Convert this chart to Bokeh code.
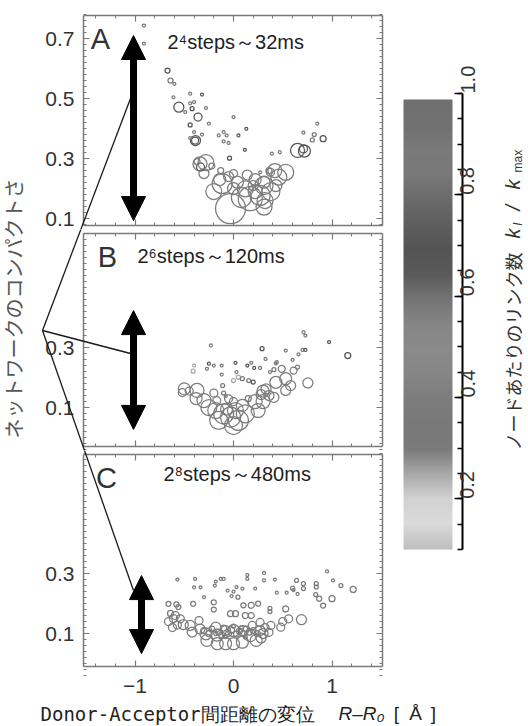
import math
import numpy as np
from bokeh.plotting import figure
from bokeh.models import (Arrow, NormalHead, Label, LinearAxis, FixedTicker, PrintfTickFormatter,
                          LinearColorMapper, Range1d, ColumnDataSource)
from bokeh.layouts import row, column
from bokeh.embed import file_html
from bokeh.resources import INLINE
from bokeh.transform import linear_cmap

# ---------------- data ----------------
x_ticks = [-1, 0, 1]
x_minor = [-1.4, -1.2, -1.0, -0.8, -0.6, -0.4, -0.2, 0.0, 0.2, 0.4, 0.6, 0.8, 1.0, 1.2, 1.4]
a_y_ticks = [0.1, 0.3, 0.5, 0.7]
b_y_ticks = [0.1, 0.3]
c_y_ticks = [0.1, 0.3]
cbar_ticks = [0.2, 0.4, 0.6, 0.8, 1.0]
cbar_minor = [0.1, 0.15, 0.2, 0.25, 0.3, 0.35, 0.4, 0.45, 0.5, 0.55, 0.6, 0.65, 0.7, 0.75, 0.8, 0.85, 0.9, 0.95, 1.0]

panel_titles = ["2\u2074steps\uff5e32ms", "2\u2076steps\uff5e120ms", "2\u2078steps\uff5e480ms"]
panel_letters = ["A", "B", "C"]

# panel A: x = R-R0, y = compactness, w = node weight (bubble), k = k_l/k_max
a_x = [-0.91, -0.91, -0.67, -0.64, -0.60, -0.61, -0.555, -0.44, -0.40, -0.32, -0.44, -0.42, -0.49, -0.36,
       -0.28, -0.44, -0.25, -0.40, -0.386, -0.39, -0.44, -0.32, 0.00, -0.15, -0.10, -0.07, 0.05, 0.13,
       -0.10, -0.05, 0.115, -0.04, -0.34, -0.28, -0.335, -0.37, -0.22, -0.13, -0.115, -0.14, -0.03, 0.04,
       0.12, 0.17, 0.27, 0.31, 0.27, 0.36, 0.85, 0.71, 0.82, 0.80, 0.91, 0.39, 0.47, 0.65, 0.71, 0.72,
       0.53, 0.46, 0.375, 0.31, 0.43, 0.32, 0.31, 0.00, -0.05, 0.20, 0.22,
       0.08, 0.22, 0.38, 0.14, -0.20, 0.42, -0.30, 0.00]
a_y = [0.743, 0.683, 0.593, 0.560, 0.549, 0.504, 0.471, 0.516, 0.488, 0.513, 0.484, 0.466, 0.455, 0.438,
       0.468, 0.412, 0.416, 0.388, 0.360, 0.360, 0.368, 0.380, 0.438, 0.377, 0.388, 0.377, 0.377, 0.399,
       0.357, 0.352, 0.329, 0.301, 0.282, 0.286, 0.272, 0.290, 0.275, 0.260, 0.216, 0.230, 0.133, 0.221,
       0.199, 0.166, 0.177, 0.221, 0.254, 0.260, 0.416, 0.386, 0.380, 0.362, 0.366, 0.316, 0.321, 0.327,
       0.332, 0.325, 0.254, 0.238, 0.254, 0.210, 0.210, 0.160, 0.138, 0.200, 0.240, 0.210, 0.190,
       0.170, 0.230, 0.190, 0.245, 0.190, 0.260, 0.250, 0.250]
a_w = [1.5, 1.5, 2.5, 2.5, 1.5, 1.5, 5, 1.5, 1.5, 1.5, 1.5, 2, 1.5, 4, 1.5, 2, 1.5, 1.5, 5, 3.5, 1.5, 1.5,
       1.5, 1.5, 1.5, 1.5, 1.5, 1.5, 1.5, 1.5, 1.5, 2, 7, 8, 4, 3, 3, 3, 10, 6, 15, 6, 8, 12, 10, 6, 1.5, 3,
       1.5, 1.5, 2, 2, 3, 1.5, 1.5, 7, 4, 6, 8, 8, 4, 9, 6, 8, 8, 6, 5, 5, 7,
       10, 6, 9, 5, 8, 7, 5, 4]
a_k = [0.9, 0.9, 0.7, 0.9, 0.9, 0.9, 0.7, 0.9, 0.9, 0.7, 0.9, 0.7, 0.9, 0.7, 0.9, 0.7, 0.9, 0.9, 0.7, 0.7,
       0.9, 0.9, 0.9, 0.9, 0.9, 0.9, 0.7, 0.7, 0.9, 0.9, 0.7, 0.7, 0.4, 0.4, 0.7, 0.4, 0.4, 0.4, 0.4, 0.4,
       0.4, 0.4, 0.4, 0.4, 0.4, 0.4, 0.9, 0.4, 0.9, 0.9, 0.9, 0.9, 0.7, 0.9, 0.9, 0.7, 0.7, 0.7, 0.4, 0.4,
       0.4, 0.4, 0.4, 0.4, 0.4, 0.4, 0.4, 0.4, 0.4,
       0.4, 0.4, 0.4, 0.4, 0.4, 0.4, 0.4, 0.4]

b_x = [-0.23, -0.25, -0.40, -0.41, -0.27, -0.20, -0.12, -0.12, 0.02, 0.03, 0.14, 0.18, 0.21, 0.27, 0.00,
       0.05, 0.09, 0.155, 0.20, -0.11, -0.10, -0.08, -0.50, -0.52, -0.45, -0.37, -0.38, -0.30, -0.25, -0.17,
       -0.18, -0.10, -0.15, -0.03, 0.02, 0.09, 0.12, 0.05, 0.22, 0.25, 0.28, 0.33, -0.20, -0.05, 0.00, 0.15,
       -0.07, 0.00, 0.29, 0.325, 0.53, 0.70, 0.73, 0.66, 0.60, 0.71, 0.73, 0.97, 1.16, 0.44, 0.43, 0.41,
       0.37, 0.49, 0.61, 0.65, 0.53, 0.43, 0.58, 0.755, 0.53, 0.30, 0.41, 0.30, 0.36]
b_y = [0.307, 0.246, 0.240, 0.221, 0.229, 0.240, 0.240, 0.210, 0.249, 0.218, 0.240, 0.249, 0.232, 0.232,
       0.190, 0.201, 0.196, 0.190, 0.185, 0.173, 0.148, 0.138, 0.162, 0.150, 0.155, 0.157, 0.130, 0.123,
       0.100, 0.123, 0.090, 0.079, 0.057, 0.068, 0.090, 0.107, 0.079, 0.057, 0.120, 0.090, 0.143, 0.162,
       0.148, 0.129, 0.120, 0.130, 0.095, 0.040, 0.296, 0.262, 0.290, 0.292, 0.292, 0.277, 0.259, 0.351,
       0.340, 0.318, 0.273, 0.251, 0.247, 0.226, 0.218, 0.229, 0.223, 0.235, 0.196, 0.184, 0.173, 0.182,
       0.157, 0.155, 0.134, 0.120, 0.140]
b_w = [1.5, 1.5, 1.5, 2, 1.5, 1.5, 1.5, 1.5, 1.5, 1.5, 1.5, 1.5, 1.5, 1.5, 2, 2, 2, 2, 2, 2, 2, 1.5, 6, 4,
       4, 7, 6, 7, 8, 4, 8, 10, 9, 10, 8, 6, 9, 10, 7, 7, 5, 5, 4, 4, 4, 3, 6, 9, 2, 1.5, 1.5, 1.5, 1.5,
       1.5, 1.5, 1.5, 1.5, 1.5, 3, 1.5, 1.5, 2, 1.5, 3.5, 3.5, 2, 6, 6, 5, 5, 5, 6, 5, 7, 5]
b_k = [0.9, 0.7, 0.25, 0.25, 0.9, 0.9, 0.9, 0.9, 0.7, 0.9, 0.7, 0.9, 0.7, 0.9, 0.25, 0.25, 0.9, 0.9, 0.7,
       0.9, 0.9, 0.9, 0.4, 0.4, 0.4, 0.4, 0.4, 0.4, 0.4, 0.4, 0.4, 0.4, 0.4, 0.4, 0.4, 0.4, 0.4, 0.4, 0.4,
       0.4, 0.4, 0.4, 0.4, 0.4, 0.4, 0.4, 0.4, 0.4, 0.7, 0.9, 0.9, 0.9, 0.7, 0.9, 0.9, 0.9, 0.9, 0.7, 0.7,
       0.9, 0.9, 0.9, 0.9, 0.4, 0.4, 0.9, 0.4, 0.4, 0.4, 0.4, 0.4, 0.4, 0.4, 0.4, 0.4]

c_x = [-0.57, -0.39, -0.40, -0.335, -0.30, -0.18, -0.13, -0.10, -0.19, -0.06, 0.00, -0.02, 0.045, 0.03,
       0.09, 0.14, 0.14, 0.22, -0.66, -0.58, -0.56, -0.41, -0.20, -0.20, -0.03, 0.02, 0.10, 0.12, 0.18,
       0.18, 0.25, 0.95, 1.01, 1.09, 1.215, 0.31, 0.31, 0.42, 0.64, 0.71, 0.71, 0.60, 0.61, 0.54, 0.44,
       0.65, 0.84, 0.84, 0.835, 0.87, 1.00, 0.91, 0.37, 0.37, 0.53, 0.69, 0.56, 0.50, 0.48, 0.38, 0.36,
       0.32, 0.27, -0.59, -0.61, -0.54, -0.51, -0.57, -0.44, -0.42, -0.35, -0.34, -0.28, -0.27, -0.18,
       -0.17, -0.165, -0.08, -0.08, 0.00, 0.00, 0.09, 0.10, 0.17, 0.19, 0.23, 0.27, -0.30, -0.25, -0.22,
       -0.15, -0.12, -0.10, -0.05, -0.02, 0.03, 0.06, 0.10, 0.13, 0.16, 0.20, 0.24, -0.18, 0.00, 0.08,
       -0.08, 0.12, 0.30, 0.28, -0.64, -0.66, -0.62]
c_y = [0.280, 0.282, 0.254, 0.254, 0.221, 0.273, 0.282, 0.282, 0.260, 0.243, 0.240, 0.225, 0.221, 0.255,
       0.250, 0.282, 0.295, 0.250, 0.199, 0.197, 0.188, 0.199, 0.204, 0.180, 0.166, 0.166, 0.194, 0.160,
       0.160, 0.194, 0.200, 0.307, 0.277, 0.260, 0.247, 0.302, 0.277, 0.280, 0.277, 0.266, 0.250, 0.251,
       0.245, 0.236, 0.236, 0.232, 0.266, 0.255, 0.230, 0.216, 0.216, 0.193, 0.184, 0.173, 0.182, 0.146,
       0.149, 0.140, 0.121, 0.127, 0.104, 0.120, 0.137, 0.160, 0.150, 0.149, 0.130, 0.128, 0.127, 0.105,
       0.143, 0.115, 0.099, 0.077, 0.121, 0.095, 0.066, 0.066, 0.110, 0.110, 0.066, 0.071, 0.110, 0.093,
       0.127, 0.077, 0.110, 0.110, 0.100, 0.115, 0.105, 0.095, 0.118, 0.100, 0.112, 0.098, 0.108, 0.100,
       0.115, 0.105, 0.110, 0.100, 0.100, 0.125, 0.120, 0.090, 0.088, 0.100, 0.085, 0.167, 0.140, 0.120]
c_w = [1.5, 1.5, 1.5, 1.5, 1.5, 1.5, 1.5, 1.5, 1.5, 1.5, 1.5, 1.5, 2, 1.5, 1.5, 1.5, 1.5, 1.5, 2.5, 2.5,
       2.5, 2.5, 2.5, 2.5, 3, 3, 2.5, 3, 3, 3, 2.5, 1.5, 1.5, 2, 3, 1.5, 1.5, 1.5, 2, 2, 2, 2, 1.5, 1.5,
       1.5, 1.5, 2, 2, 2, 2.5, 3, 2.5, 2, 2, 3, 5, 4, 4, 4, 4, 4, 4, 4, 4, 4, 4, 5, 4, 5, 5, 4, 5, 6, 6,
       5, 6, 6, 6, 5, 6, 6, 6, 5, 6, 4, 6, 5, 3, 3, 3, 3, 3, 3, 3, 3, 3, 3, 3, 3, 3, 3, 3, 2, 2, 2, 2, 2,
       5, 5, 3, 4, 4]
c_k = [0.9, 0.9, 0.9, 0.9, 0.9, 0.9, 0.9, 0.9, 0.9, 0.9, 0.9, 0.9, 0.9, 0.9, 0.9, 0.9, 0.9, 0.9, 0.4, 0.4,
       0.4, 0.4, 0.9, 0.9, 0.4, 0.4, 0.9, 0.4, 0.4, 0.9, 0.9, 0.9, 0.9, 0.9, 0.4, 0.9, 0.9, 0.9, 0.9, 0.9,
       0.9, 0.9, 0.9, 0.9, 0.9, 0.9, 0.9, 0.9, 0.9, 0.9, 0.9, 0.9, 0.9, 0.9, 0.4, 0.4, 0.4, 0.4, 0.4, 0.4,
       0.4, 0.4, 0.4, 0.4, 0.4, 0.4, 0.4, 0.4, 0.4, 0.4, 0.4, 0.4, 0.4, 0.4, 0.4, 0.4, 0.4, 0.4, 0.4, 0.4,
       0.4, 0.4, 0.4, 0.4, 0.4, 0.4, 0.4, 0.4, 0.4, 0.4, 0.4, 0.4, 0.4, 0.4, 0.4, 0.4, 0.4, 0.4, 0.4, 0.4,
       0.4, 0.4, 0.4, 0.4, 0.4, 0.4, 0.4, 0.4, 0.4, 0.4, 0.4, 0.4]

# gray-scale colour map of k_l/k_max (stop value, colour)
cmap_stops = [(0.10, "#bfbfbf"), (0.15, "#dadada"), (0.20, "#d2d2d2"), (0.25, "#a8a8a8"),
              (0.30, "#7a7a7a"), (0.35, "#787878"), (0.40, "#7c7c7c"), (0.45, "#868686"),
              (0.50, "#8a8a8a"), (0.55, "#858585"), (0.60, "#747474"), (0.65, "#5a5a5a"),
              (0.70, "#545454"), (0.75, "#5e5e5e"), (0.80, "#6a6a6a"), (0.85, "#787878"),
              (0.90, "#7a7a7a"), (0.95, "#717171"), (1.00, "#707070")]

# ---------------- styling / layout ----------------
K_LO, K_HI = 0.1, 1.0
sv = np.array([s for s, _ in cmap_stops])
gv = np.array([int(c[1:3], 16) for _, c in cmap_stops])
grid_k = np.linspace(K_LO, K_HI, 256)
palette = ["#%02x%02x%02x" % (g, g, g) for g in np.round(np.interp(grid_k, sv, gv)).astype(int)]
mapper = LinearColorMapper(palette=palette, low=K_LO, high=K_HI)

FRAME_C = "#7a7a7a"
TXT = "#333333"
FONT = "Liberation Sans"
JFONT = "Noto Sans CJK JP"

# window geometry (px): panels occupy x 35..390
PX_X, X_ZERO = 98.5, 233.0     # px per x unit, window x of x=0
PX_Y = 300.0                   # px per y unit
FIG_L, FIG_R = 35, 390
BOX_L, BOX_R = 83, 382
# name: (fig top, fig bottom, reference y value, its window y, box top, box bottom)
geo = {
    "A": (0, 229, 0.7, 38, 15, 225),
    "B": (229, 450, 0.3, 347, 233, 446),
    "C": (450, 702, 0.3, 573, 454, 666),
}


def wx2d(wx):
    return (wx - X_ZERO) / PX_X


def wy2d(name, wy):
    _, _, yv, yw, _, _ = geo[name]
    return yv - (wy - yw) / PX_Y


def style_axis(ax, labels):
    ax.axis_line_color = FRAME_C
    ax.axis_line_width = 1.5
    ax.major_tick_in = 6
    ax.major_tick_out = 0
    ax.minor_tick_in = 3
    ax.minor_tick_out = 0
    ax.major_tick_line_color = FRAME_C
    ax.minor_tick_line_color = FRAME_C
    ax.major_tick_line_width = 1.2
    ax.minor_tick_line_width = 1
    if labels:
        ax.major_label_text_font = FONT
        ax.major_label_text_font_size = "21px"
        ax.major_label_text_color = TXT
    else:
        ax.major_label_text_font_size = "1px"
        ax.major_label_text_alpha = 0
        ax.major_label_standoff = 0


def make_panel(name, yticks, xs, ys, ws, ks, letter, title, title_pos, letter_pos, show_x):
    ft, fb, _, _, bt, bb = geo[name]
    xb0, xb1 = wx2d(BOX_L), wx2d(BOX_R)
    yb0, yb1 = wy2d(name, bb), wy2d(name, bt)
    p = figure(width=FIG_R - FIG_L, height=fb - ft,
               x_range=Range1d(wx2d(FIG_L), wx2d(FIG_R)),
               y_range=Range1d(wy2d(name, fb), wy2d(name, ft)),
               x_axis_location=None, y_axis_location=None, title=None, min_border=0,
               output_backend="svg", toolbar_location=None)
    p.xgrid.visible = False
    p.ygrid.visible = False
    p.outline_line_color = None
    p.background_fill_color = "white"
    p.border_fill_color = "white"
    xt = FixedTicker(ticks=x_ticks, minor_ticks=x_minor)
    yminor = list(np.round(np.arange(-0.04, 0.80, 0.02), 2))
    yt = FixedTicker(ticks=yticks, minor_ticks=yminor)
    for side, tk, lab, loc, bnd in (("below", xt, show_x, yb0, (xb0, xb1)),
                                    ("above", xt, False, yb1, (xb0, xb1)),
                                    ("left", yt, True, xb0, (yb0, yb1)),
                                    ("right", yt, False, xb1, (yb0, yb1))):
        ax = LinearAxis(ticker=tk, fixed_location=loc, bounds=bnd)
        style_axis(ax, lab)
        if side == "left":
            ax.major_label_standoff = 9
        if side == "below" and lab:
            ax.major_label_standoff = 12
        p.add_layout(ax, side)
    src = ColumnDataSource(dict(x=xs, y=ys, size=[2.0 * w for w in ws], k=ks))
    p.scatter("x", "y", size="size", source=src, marker="circle", fill_color=None,
              line_color=linear_cmap("k", palette, K_LO, K_HI), line_width=1.25)
    p.add_layout(Label(x=wx2d(letter_pos[0]), y=wy2d(name, letter_pos[1]), text=letter, text_font=FONT,
                       text_font_size="29px", text_color=TXT, text_align="center", text_baseline="middle"))
    p.add_layout(Label(x=wx2d(title_pos[0]), y=wy2d(name, title_pos[1]), text=title, text_font=FONT,
                       text_font_size="20px", text_color="#222222", text_align="left", text_baseline="middle"))
    return p


pA = make_panel("A", a_y_ticks, a_x, a_y, a_w, a_k, "A", panel_titles[0], (167, 41), (100, 38), False)
pB = make_panel("B", b_y_ticks, b_x, b_y, b_w, b_k, "B", panel_titles[1], (137, 255), (107, 256), False)
pC = make_panel("C", c_y_ticks, c_x, c_y, c_w, c_k, "C", panel_titles[2], (163, 473), (106, 477), True)
figs = {"A": pA, "B": pB, "C": pC}

# connecting lines from a common hub to the arrows (window px)
hub = (42, 330)
targets = {"A": (130, 98), "B": (130, 353), "C": (133, 590)}
draw_in = {"A": ("A", "B"), "B": ("B",), "C": ("B", "C")}
for tgt, (tx, ty) in targets.items():
    for fname in draw_in[tgt]:
        figs[fname].add_layout(Arrow(end=None, x_start=wx2d(hub[0]), y_start=wy2d(fname, hub[1]),
                                     x_end=wx2d(tx), y_end=wy2d(fname, ty),
                                     line_color="#1a1a1a", line_width=1.3))

# big double arrows (data coordinates of each panel)
big_arrows = {"A": (-1.015, 0.093, 0.71), "B": (-1.015, 0.027, 0.423), "C": (-0.934, 0.033, 0.293)}
for name, p in figs.items():
    bx, ylo, yhi = big_arrows[name]
    p.add_layout(Arrow(start=NormalHead(size=24, fill_color="black", line_color="black", line_width=1),
                       end=NormalHead(size=24, fill_color="black", line_color="black", line_width=1),
                       x_start=bx, y_start=ylo, x_end=bx, y_end=yhi,
                       line_color="black", line_width=7))

# y-axis title figure (window coordinates)
ylab = figure(width=FIG_L, height=702, x_range=Range1d(0, FIG_L), y_range=Range1d(702, 0),
              x_axis_location=None, y_axis_location=None, title=None, min_border=0,
              output_backend="svg", toolbar_location=None)
ylab.xgrid.visible = False
ylab.ygrid.visible = False
ylab.outline_line_color = None
ylab.add_layout(Label(x=13, y=308, text="ネットワークのコンパクトさ", angle=math.pi / 2,
                      text_font=JFONT, text_font_size="20px", text_color="#555555",
                      text_align="center", text_baseline="middle"))

# colour bar figure: bar spans window x 403..452, k=1.0 at y 93, k=0.1 at y 549
CB_L, CB_R = 390, 526
BAR_L, BAR_W = 403, 49
K_TOP_W, K_BOT_W = 93, 549
PX_K = (K_BOT_W - K_TOP_W) / (K_HI - K_LO)


def cbx(wx):
    return (wx - BAR_L) / BAR_W


def cby(wy):
    return K_HI - (wy - K_TOP_W) / PX_K


cb = figure(width=CB_R - CB_L, height=702, x_range=Range1d(cbx(CB_L), cbx(CB_R)),
            y_range=Range1d(cby(702), cby(0)),
            x_axis_location=None, y_axis_location=None, title=None, min_border=0,
            output_backend="svg", toolbar_location=None)
cb.xgrid.visible = False
cb.ygrid.visible = False
cb.outline_line_color = None
cb.image(image=[grid_k.reshape(-1, 1)], x=0, y=K_LO, dw=1.0, dh=cby(99) - K_LO, color_mapper=mapper)
cax = LinearAxis(ticker=FixedTicker(ticks=cbar_ticks, minor_ticks=cbar_minor),
                 formatter=PrintfTickFormatter(format="%.1f"),
                 fixed_location=cbx(462), bounds=(K_LO, K_HI))
cax.axis_line_color = "black"
cax.axis_line_width = 2
cax.major_tick_in = 8
cax.major_tick_out = 0
cax.minor_tick_in = 5
cax.minor_tick_out = 0
cax.major_tick_line_color = "black"
cax.minor_tick_line_color = "black"
cax.major_tick_line_width = 1.5
cax.minor_tick_line_width = 1.5
cax.major_label_orientation = math.pi / 2
cax.major_label_text_font = FONT
cax.major_label_text_font_size = "20px"
cax.major_label_text_color = TXT
cax.major_label_standoff = 5
cb.add_layout(cax, "right")

# colour-bar title: (text, window y where it starts, window x of its centre, size, italic)
cbar_title = [("ノードあたりのリンク数", 450, 512, "18px", False),
              ("k", 238, 512, "20px", True),
              ("l", 225, 517, "12px", True),
              ("/", 210, 512, "20px", True),
              ("k", 189, 512, "20px", True),
              ("max", 172, 517, "12px", False)]
for txt, wy, wx, fs, it in cbar_title:
    cb.add_layout(Label(x=cbx(wx), y=cby(wy), text=txt, angle=math.pi / 2,
                        text_font=JFONT if not txt.isascii() else FONT,
                        text_font_style="italic" if it else "normal",
                        text_font_size=fs, text_color=TXT, text_align="left", text_baseline="middle"))

# x-axis title figure (window coordinates)
xlab = figure(width=CB_R, height=24, x_range=Range1d(0, CB_R), y_range=Range1d(726, 702),
              x_axis_location=None, y_axis_location=None, title=None, min_border=0,
              output_backend="svg", toolbar_location=None)
xlab.xgrid.visible = False
xlab.ygrid.visible = False
xlab.outline_line_color = None
xlab.add_layout(Label(x=40, y=713, text="Donor-Acceptor間距離の変位", text_font="DejaVu Sans Mono",
                      text_font_size="19px", text_color="#222222", text_align="left", text_baseline="middle"))
xlab.add_layout(Label(x=338, y=713, text="R\u2013R\u2080", text_font=FONT, text_font_style="italic",
                      text_font_size="19px", text_color="#222222", text_align="left", text_baseline="middle"))
for txt, wx in (("[", 396), ("Å", 415), ("]", 433)):
    xlab.add_layout(Label(x=wx, y=713, text=txt, text_font=FONT, text_font_size="19px",
                          text_color="#222222", text_align="center", text_baseline="middle"))

layout = column(row(ylab, column(pA, pB, pC), cb), xlab)
open("out.html", "w").write(file_html(layout, INLINE))
